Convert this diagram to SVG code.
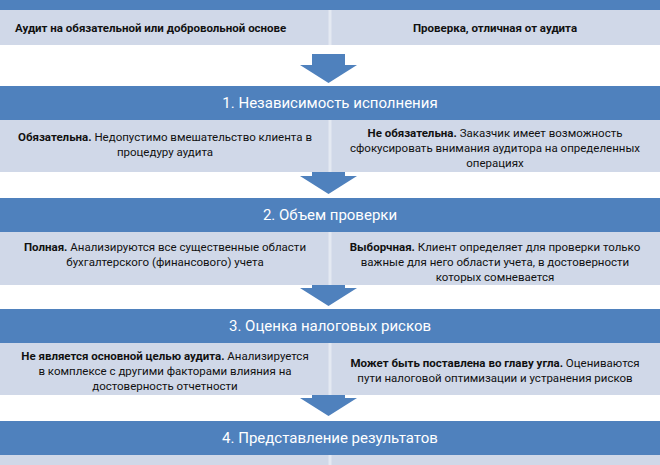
<svg xmlns="http://www.w3.org/2000/svg" width="660" height="465" viewBox="0 0 660 465">
<style>
.hd{fill:#4F81BD}
.lt{fill:#D0D8E8}
.ar{fill:#4F81BD}
.h{font-family:Roboto,"Liberation Sans",sans-serif;font-size:15px;fill:#fff;text-anchor:middle}
.t{font-family:Roboto,"Liberation Sans",sans-serif;font-size:11.5px;fill:#111;text-anchor:middle}
.b{font-weight:bold}
</style>
<rect width="660" height="465" fill="#fff"/>
<g id="top">
<rect class="hd" x="0" y="0" width="660" height="10"/>
<rect class="lt" x="0" y="10" width="660" height="35"/>
<line x1="330" y1="10" x2="330" y2="45" stroke="#E4E9F2" stroke-width="3"/>
<text class="t b" x="15" y="32" text-anchor="start" style="text-anchor:start">Аудит на обязательной или добровольной основе</text>
<text class="t b" x="495" y="32">Проверка, отличная от аудита</text>
</g>
<g id="connectors">
<path class="ar" d="M312 54H345V65H357L328.5 83L300 65H312Z"/>
<path class="ar" d="M312 172H345V176H357L328.5 194L300 176H312Z"/>
<path class="ar" d="M312 285H345V288H357L328.5 306L300 288H312Z"/>
<path class="ar" d="M312 395H345V398H357L328.5 416L300 398H312Z"/>
</g>
<g id="s1">
<rect class="hd" x="0" y="86" width="660" height="34"/>
<text class="h" x="330" y="108">1. Независимость исполнения</text>
<rect class="lt" x="0" y="120" width="660" height="52"/>
<line x1="330" y1="120" x2="330" y2="172" stroke="#E4E9F2" stroke-width="3"/>
<text class="t" x="165" y="141"><tspan class="b">Обязательна.</tspan> Недопустимо вмешательство клиента в</text>
<text class="t" x="165" y="156">процедуру аудита</text>
<text class="t" x="495" y="137"><tspan class="b">Не обязательна.</tspan> Заказчик имеет возможность</text>
<text class="t" x="495" y="152">сфокусировать внимания аудитора на определенных</text>
<text class="t" x="495" y="167">операциях</text>
</g>
<g id="s2">
<rect class="hd" x="0" y="198" width="660" height="34"/>
<text class="h" x="330" y="220">2. Объем проверки</text>
<rect class="lt" x="0" y="232" width="660" height="53"/>
<line x1="330" y1="232" x2="330" y2="285" stroke="#E4E9F2" stroke-width="3"/>
<text class="t" x="165" y="251"><tspan class="b">Полная.</tspan> Анализируются все существенные области</text>
<text class="t" x="165" y="266">бухгалтерского (финансового) учета</text>
<text class="t" x="495" y="251"><tspan class="b">Выборчная.</tspan> Клиент определяет для проверки только</text>
<text class="t" x="495" y="266">важные для него области учета, в достоверности</text>
<text class="t" x="495" y="281">которых сомневается</text>
</g>
<g id="s3">
<rect class="hd" x="0" y="309" width="660" height="34"/>
<text class="h" x="330" y="331">3. Оценка налоговых рисков</text>
<rect class="lt" x="0" y="343" width="660" height="52"/>
<line x1="330" y1="343" x2="330" y2="395" stroke="#E4E9F2" stroke-width="3"/>
<text class="t" x="165" y="360"><tspan class="b">Не является основной целью аудита.</tspan> Анализируется</text>
<text class="t" x="165" y="375">в комплексе с другими факторами влияния на</text>
<text class="t" x="165" y="390">достоверность отчетности</text>
<text class="t" x="495" y="367"><tspan class="b">Может быть поставлена во главу угла.</tspan> Оцениваются</text>
<text class="t" x="495" y="382">пути налоговой оптимизации и устранения рисков</text>
</g>
<g id="s4">
<rect class="hd" x="0" y="421" width="660" height="34"/>
<text class="h" x="330" y="443">4. Представление результатов</text>
<rect class="lt" x="0" y="455" width="660" height="10"/>
<line x1="330" y1="455" x2="330" y2="465" stroke="#E4E9F2" stroke-width="3"/>
</g>
</svg>
